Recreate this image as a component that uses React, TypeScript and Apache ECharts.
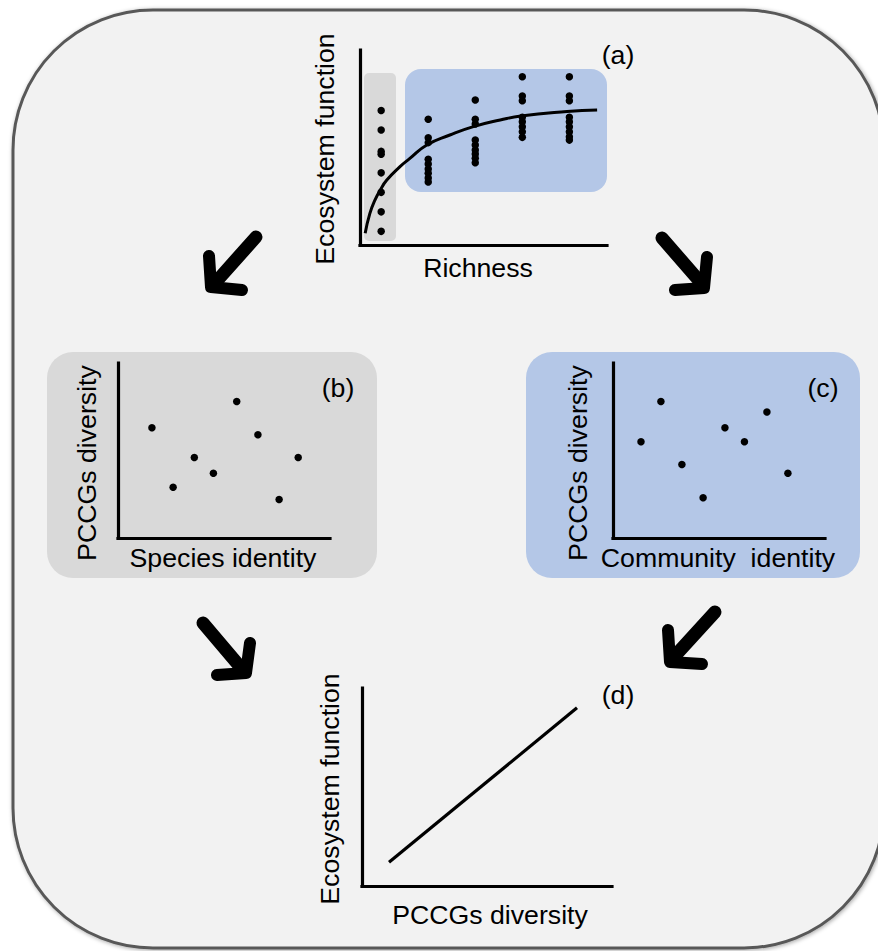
import React, { useEffect, useRef } from "react";
import * as echarts from "echarts";

// ---------- Data ----------
// Panel (a): ecosystem function vs richness
const richnessLevels = [1, 2, 3, 4, 5];
const efByRichness: number[][] = [
  [69, 59, 48, 46.5, 37, 27, 17, 7],
  [64.5, 55, 52.5, 44, 41.5, 39, 36.8, 34.4, 32.3],
  [74.4, 64.5, 62.1, 53.8, 51.3, 48.7, 46.7, 44.5, 42.2],
  [86.3, 76.4, 74, 65.5, 63.2, 60.7, 58.1, 55.2],
  [86.3, 76.4, 74, 65.5, 63.2, 60.7, 58.1, 55.5, 53.8],
];
const curveX = [0.66, 0.76, 0.87, 0.98, 1.12, 1.4, 1.61, 1.97, 2.46, 2.96, 3.53, 3.97, 4.95, 5.59];
const curveY = [6, 16.2, 23.1, 28.2, 33.3, 40.2, 44.4, 51.3, 56.4, 60.7, 64.1, 66.2, 68.4, 69.2];

// Panel (b): PCCGs diversity vs species identity
const speciesX = [1.6, 2.6, 3.6, 4.5, 5.6, 6.6, 7.6, 8.5];
const speciesY = [6.3, 2.9, 4.6, 3.7, 7.8, 5.9, 2.2, 4.6];

// Panel (c): PCCGs diversity vs community identity
const communityX = [1.32, 2.26, 3.25, 4.25, 5.28, 6.2, 7.26, 8.25];
const communityY = [5.5, 7.8, 4.2, 2.3, 6.3, 5.5, 7.2, 3.7];

// Panel (d): ecosystem function vs PCCGs diversity
const diversityX = [1.08, 8.6];
const diversityEF = [1.2, 9.0];

const FONT = "'Liberation Sans', Arial, sans-serif";
const FS = 26.7;

function App() {
  const ref = useRef<HTMLDivElement>(null);

  useEffect(() => {
    if (!ref.current) return;
    const chart = echarts.init(ref.current, null, { renderer: "svg" });

    const axisLine = { show: true, onZero: false, lineStyle: { color: "#000", width: 3.2, cap: "square" } };
    const mkAxis = (gi: number, min: number, max: number) => ({
      type: "value",
      gridIndex: gi,
      min,
      max,
      z: 10,
      axisLine,
      axisTick: { show: false },
      axisLabel: { show: false },
      splitLine: { show: false },
    });

    const text = (t: string, x: number, y: number, rot = 0) => ({
      type: "text",
      x,
      y,
      rotation: rot,
      z: 30,
      style: {
        text: t,
        fill: "#000",
        font: `${FS}px ${FONT}`,
        align: "center",
        verticalAlign: "middle",
      },
    });

    const arrow = (shaft: number[][], head: number[][]) => [
      {
        type: "polyline",
        z: 8,
        shape: { points: shaft },
        style: { stroke: "#000", lineWidth: 13, lineCap: "round", fill: null },
      },
      {
        type: "polyline",
        z: 8,
        shape: { points: head },
        style: { stroke: "#000", lineWidth: 12, lineCap: "round", lineJoin: "round", fill: null },
      },
    ];

    const dot = { color: "#000", opacity: 1 };

    const scatterA = richnessLevels.flatMap((r, i) => efByRichness[i].map((v) => [r, v]));

    chart.setOption({
      animation: false,
      grid: [
        { left: 360, top: 50, width: 247, height: 195 },
        { left: 118, top: 363, width: 212, height: 175 },
        { left: 613, top: 363, width: 212, height: 175 },
        { left: 362, top: 688, width: 250, height: 198 },
      ],
      xAxis: [mkAxis(0, 0.55, 5.8), mkAxis(1, 0, 10), mkAxis(2, 0, 10), mkAxis(3, 0, 10)],
      yAxis: [mkAxis(0, 0, 100), mkAxis(1, 0, 10), mkAxis(2, 0, 10), mkAxis(3, 0, 10)],
      series: [
        {
          type: "scatter",
          xAxisIndex: 0,
          yAxisIndex: 0,
          z: 12,
          symbolSize: 7.5,
          itemStyle: dot,
          data: scatterA,
        },
        {
          type: "line",
          xAxisIndex: 0,
          yAxisIndex: 0,
          z: 12,
          smooth: true,
          showSymbol: false,
          lineStyle: { color: "#000", width: 3 },
          data: curveX.map((x, i) => [x, curveY[i]]),
        },
        {
          type: "scatter",
          xAxisIndex: 1,
          yAxisIndex: 1,
          z: 12,
          symbolSize: 7.5,
          itemStyle: dot,
          data: speciesX.map((x, i) => [x, speciesY[i]]),
        },
        {
          type: "scatter",
          xAxisIndex: 2,
          yAxisIndex: 2,
          z: 12,
          symbolSize: 7.5,
          itemStyle: dot,
          data: communityX.map((x, i) => [x, communityY[i]]),
        },
        {
          type: "line",
          xAxisIndex: 3,
          yAxisIndex: 3,
          z: 12,
          showSymbol: false,
          lineStyle: { color: "#000", width: 3.2 },
          data: diversityX.map((x, i) => [x, diversityEF[i]]),
        },
      ],
      graphic: [
        {
          type: "rect",
          z: 0,
          shape: { x: 13, y: 10, width: 871, height: 938, r: 140 },
          style: {
            fill: "#f2f2f2",
            stroke: "#595959",
            lineWidth: 3,
            shadowBlur: 4,
            shadowColor: "rgba(0,0,0,0.35)",
            shadowOffsetX: 1,
            shadowOffsetY: 1,
          },
        },
        // panel (a) highlight boxes
        { type: "rect", z: 1, shape: { x: 364, y: 73, width: 32, height: 168, r: 5 }, style: { fill: "#d9d9d9" } },
        { type: "rect", z: 1, shape: { x: 405, y: 69, width: 202, height: 123, r: 16 }, style: { fill: "#b4c7e7" } },
        // panel (b) & (c) backgrounds
        { type: "rect", z: 1, shape: { x: 47, y: 352, width: 330, height: 226, r: 26 }, style: { fill: "#d9d9d9" } },
        { type: "rect", z: 1, shape: { x: 526, y: 352, width: 334, height: 226, r: 26 }, style: { fill: "#b4c7e7" } },
        // arrows
        ...arrow([[256, 237], [215, 283]], [[209, 256], [211, 287], [242, 290]]),
        ...arrow([[662, 238], [702, 284]], [[707, 257], [704, 288], [675, 290]]),
        ...arrow([[203, 623], [242, 669]], [[250, 643], [246, 673], [217, 675]]),
        ...arrow([[715, 612], [673, 658]], [[668, 630], [670, 662], [702, 664]]),
        // texts
        text("(a)", 618, 55),
        text("Ecosystem function", 325, 149, Math.PI / 2),
        text("Richness", 478, 268),
        text("(b)", 338, 388),
        text("PCCGs diversity", 87, 463, Math.PI / 2),
        text("Species identity", 223, 558),
        text("(c)", 823, 388),
        text("PCCGs diversity", 578, 463, Math.PI / 2),
        text("Community  identity", 718, 558),
        text("(d)", 618, 695),
        text("Ecosystem function", 330, 789, Math.PI / 2),
        text("PCCGs diversity", 490, 915),
      ],
    });

    return () => chart.dispose();
  }, []);

  return (
    <div
      ref={ref}
      style={{ position: "absolute", left: 0, top: 0, width: 878, height: 951, background: "#fff" }}
    />
  );
}

export default App;
